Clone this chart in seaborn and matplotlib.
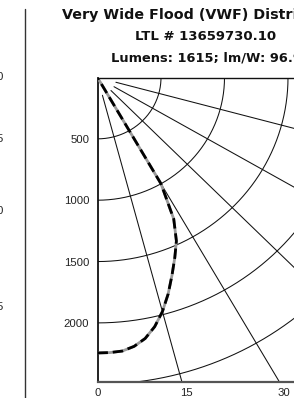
import numpy as np
import pandas as pd
import matplotlib
matplotlib.use("Agg")
import matplotlib.pyplot as plt
import seaborn as sns
from matplotlib.lines import Line2D
from matplotlib.transforms import ScaledTranslation

# ---- data ----
angles_deg = [0, 2.5, 5, 7.5, 10, 12.5, 15, 17.5, 20, 22.5, 25, 27.5, 30, 32.5, 35, 40, 45,
              50, 55, 60, 65, 70, 75, 80, 85, 90]
candela = [2245, 2244, 2238, 2210, 2160, 2080, 1975, 1850, 1715, 1590, 1470, 1300, 1000, 0, 0, 0, 0,
           0, 0, 0, 0, 0, 0, 0, 0, 0]
grid_radii = [500, 1000, 1500, 2000, 2500, 3000]
radial_angles = [15, 30, 45, 60, 75]
y_ticks = [500, 1000, 1500, 2000]
x_tick_angles = [0, 15, 30]
title_lines = ["Very Wide Flood (VWF) Distribution", "LTL # 13659730.10", "Lumens: 1615; lm/W: 96.9"]
neighbor_labels = ["0", "5", "0", "5"]

sns.set_theme(style="white")
plt.rcParams["font.family"] = ["Liberation Sans", "DejaVu Sans"]
plt.rcParams["lines.scale_dashes"] = False

W, H = 294, 398
fig = plt.figure(figsize=(W / 100, H / 100), dpi=100)
fig.patch.set_facecolor("white")

# pixel geometry of the plot frame
left_px, top_px, bottom_px, right_px = 97.5, 77.5, 382.0, 294.0
sx, sy = 0.127, 0.1227  # px per candela
xmax = (right_px - left_px) / sx
ymax = (bottom_px - top_px) / sy

ax = fig.add_axes([left_px / W, 1 - bottom_px / H, (right_px - left_px) / W, (bottom_px - top_px) / H])
ax.set_facecolor("white")

# grid circles
th = np.radians(np.linspace(0, 90, 361))
for r in grid_radii:
    ax.plot(r * np.sin(th), r * np.cos(th), color="#111111", lw=0.75, zorder=1)

# radial lines
r0, r1 = 150, 4000
for a in radial_angles:
    t = np.radians(a)
    ax.plot([r0 * np.sin(t), r1 * np.sin(t)], [r0 * np.cos(t), r1 * np.cos(t)],
            color="#111111", lw=0.75, zorder=1)

# candela curve
df = pd.DataFrame({"angle": angles_deg, "cd": candela})
t = np.radians(df["angle"])
df["x"] = df["cd"] * np.sin(t)
df["y"] = df["cd"] * np.cos(t)
sns.lineplot(data=df, x="x", y="y", sort=False, estimator=None, ax=ax,
             color="#9a9a9a", lw=2.0, zorder=3)
sns.lineplot(data=df, x="x", y="y", sort=False, estimator=None, ax=ax,
             color="black", lw=2.0, linestyle=(0, (7.5, 3.5)), zorder=4)

ax.set_xlim(0, xmax)
ax.set_ylim(ymax, 0)
ax.set_xlabel("")
ax.set_ylabel("")

ax.set_yticks(y_ticks)
ax.set_yticklabels([str(v) for v in y_ticks])
xt = [ymax * np.tan(np.radians(a)) for a in x_tick_angles]
ax.set_xticks(xt)
ax.set_xticklabels([str(a) for a in x_tick_angles])
ax.tick_params(axis="both", length=0, labelsize=8.2, labelcolor="#222222")
ax.tick_params(axis="y", pad=6)
ax.tick_params(axis="x", pad=4)
for lab, a in zip(ax.get_xticklabels(), x_tick_angles):
    if a > 0:
        lab.set_transform(lab.get_transform() + ScaledTranslation(4 / 100, 0, fig.dpi_scale_trans))

ax.spines["right"].set_visible(False)
ax.spines["left"].set_color("#111111")
ax.spines["left"].set_linewidth(1.3)
ax.spines["top"].set_color("#111111")
ax.spines["top"].set_linewidth(1.0)
ax.spines["bottom"].set_color("#555555")
ax.spines["bottom"].set_linewidth(1.6)

# title
for txt, ypx, fs in zip(title_lines, [15, 37, 58], [10.3, 9.5, 9.4]):
    fig.text(206 / W, 1 - ypx / H, txt, ha="center", va="center", fontsize=fs,
             fontweight="bold", family=["DejaVu Sans"], color="#111111")

# neighbor panel remnants
fig.add_artist(Line2D([24.5 / W, 24.5 / W], [1 - 9 / H, 0], transform=fig.transFigure,
                      color="#333333", lw=1.0))
for txt, ypx in zip(neighbor_labels, [77, 139, 211, 307]):
    fig.text(2.5 / W, 1 - ypx / H, txt, ha="right", va="center", fontsize=8.2, color="#222222")

fig.savefig("out.png", dpi=100)
